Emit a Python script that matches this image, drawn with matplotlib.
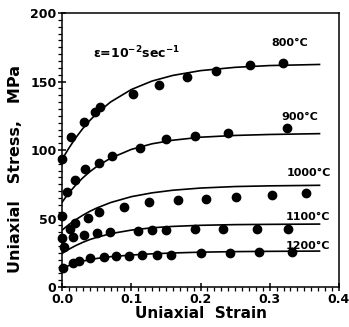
import numpy as np
import matplotlib
matplotlib.use("Agg")
import matplotlib.pyplot as plt
from matplotlib.ticker import MultipleLocator

strain_800 = [0.0, 0.0125, 0.031, 0.048, 0.055, 0.103, 0.140, 0.180, 0.223, 0.271, 0.319]
stress_800 = [93.2, 109.7, 120.7, 127.7, 131.2, 140.9, 147.7, 153.0, 157.9, 162.0, 163.7]

strain_900 = [0.007, 0.019, 0.033, 0.054, 0.072, 0.112, 0.150, 0.192, 0.240, 0.325]
stress_900 = [69.6, 78.1, 85.9, 90.7, 95.6, 101.7, 107.8, 110.2, 112.6, 115.8]

strain_1000 = [0.0, 0.012, 0.019, 0.037, 0.054, 0.090, 0.126, 0.167, 0.208, 0.252, 0.303, 0.352]
stress_1000 = [52.0, 42.1, 46.5, 50.1, 54.5, 58.2, 61.8, 63.5, 64.0, 65.5, 67.2, 68.8]

strain_1100 = [0.0, 0.002, 0.016, 0.031, 0.051, 0.069, 0.109, 0.130, 0.150, 0.192, 0.232, 0.282, 0.327]
stress_1100 = [35.5, 29.0, 36.3, 38.0, 39.2, 39.9, 41.1, 41.6, 41.6, 42.1, 42.6, 42.6, 42.6]

strain_1200 = [0.001, 0.016, 0.024, 0.041, 0.060, 0.078, 0.097, 0.115, 0.137, 0.158, 0.200, 0.242, 0.285, 0.332]
stress_1200 = [14.0, 17.7, 19.2, 21.4, 22.1, 22.6, 22.6, 23.4, 23.4, 23.4, 24.6, 24.6, 25.5, 25.8]

# Model curves at fixed strains
curve_strain = [0.0, 0.005, 0.01, 0.02, 0.03, 0.04, 0.05, 0.07, 0.10, 0.13, 0.16, 0.20, 0.25, 0.30, 0.372]
curve_800 = [93.0, 97.5, 101.6, 109.2, 115.8, 121.6, 126.7, 135.1, 144.2, 150.4, 154.5, 158.0, 160.4, 161.7, 162.5]
curve_900 = [62.0, 65.5, 68.8, 74.7, 79.8, 84.2, 88.0, 94.1, 100.5, 104.6, 107.2, 109.4, 110.7, 111.4, 112.0]
curve_1000 = [41.6, 43.7, 45.7, 49.3, 52.5, 55.3, 57.7, 61.7, 66.0, 68.8, 70.7, 72.3, 73.4, 73.9, 74.3]
curve_1100 = [24.6, 26.2, 27.7, 30.4, 32.7, 34.7, 36.3, 39.0, 41.6, 43.3, 44.3, 45.1, 45.6, 45.8, 46.0]
curve_1200 = [13.0, 14.5, 15.8, 17.6, 19.0, 20.0, 20.9, 22.2, 23.4, 24.3, 24.9, 25.5, 25.9, 26.1, 26.3]

labels = ["800°C", "900°C", "1000°C", "1100°C", "1200°C"]
label_x = [0.329, 0.344, 0.356, 0.356, 0.356]
label_y = [178, 124, 83, 51, 30]

points = [(strain_800, stress_800), (strain_900, stress_900), (strain_1000, stress_1000),
          (strain_1100, stress_1100), (strain_1200, stress_1200)]
curves = [curve_800, curve_900, curve_1000, curve_1100, curve_1200]

fig = plt.figure(figsize=(3.49, 3.27), dpi=100)
ax = fig.add_axes([0.178, 0.122, 0.793, 0.838])

for (sx, sy), cy in zip(points, curves):
    ax.plot(curve_strain, cy, color="black", lw=1.2)
    ax.plot(sx, sy, "o", color="black", markersize=6.0, clip_on=False)

for t, x, y in zip(labels, label_x, label_y):
    ax.text(x, y, t, ha="center", va="center", fontsize=8, fontweight="bold")

ax.text(0.045, 171, r"ε=10$^{\mathbf{-2}}$sec$^{\mathbf{-1}}$", ha="left", va="center",
        fontsize=9, fontweight="bold")

ax.set_xlim(0, 0.4)
ax.set_ylim(0, 200)
ax.xaxis.set_major_locator(MultipleLocator(0.1))
ax.xaxis.set_minor_locator(MultipleLocator(0.01))
ax.yaxis.set_major_locator(MultipleLocator(50))
ax.yaxis.set_minor_locator(MultipleLocator(5))
ax.set_xticks([0, 0.1, 0.2, 0.3, 0.4], ["0.0", "0.1", "0.2", "0.3", "0.4"])
ax.tick_params(which="major", direction="inout", length=6, width=1.1, labelsize=9, pad=1)
ax.tick_params(which="minor", direction="out", length=3, width=0.9)
for lab in ax.get_xticklabels() + ax.get_yticklabels():
    lab.set_fontweight("bold")
for s in ax.spines.values():
    s.set_linewidth(1.1)

ax.set_xlabel("Uniaxial  Strain", fontsize=11, fontweight="bold", labelpad=0)
ax.set_ylabel("Uniaxial   Stress,   MPa", fontsize=11.5, fontweight="bold")
ax.yaxis.set_label_coords(-0.14, 0.43)

fig.savefig("out.png", dpi=100)
